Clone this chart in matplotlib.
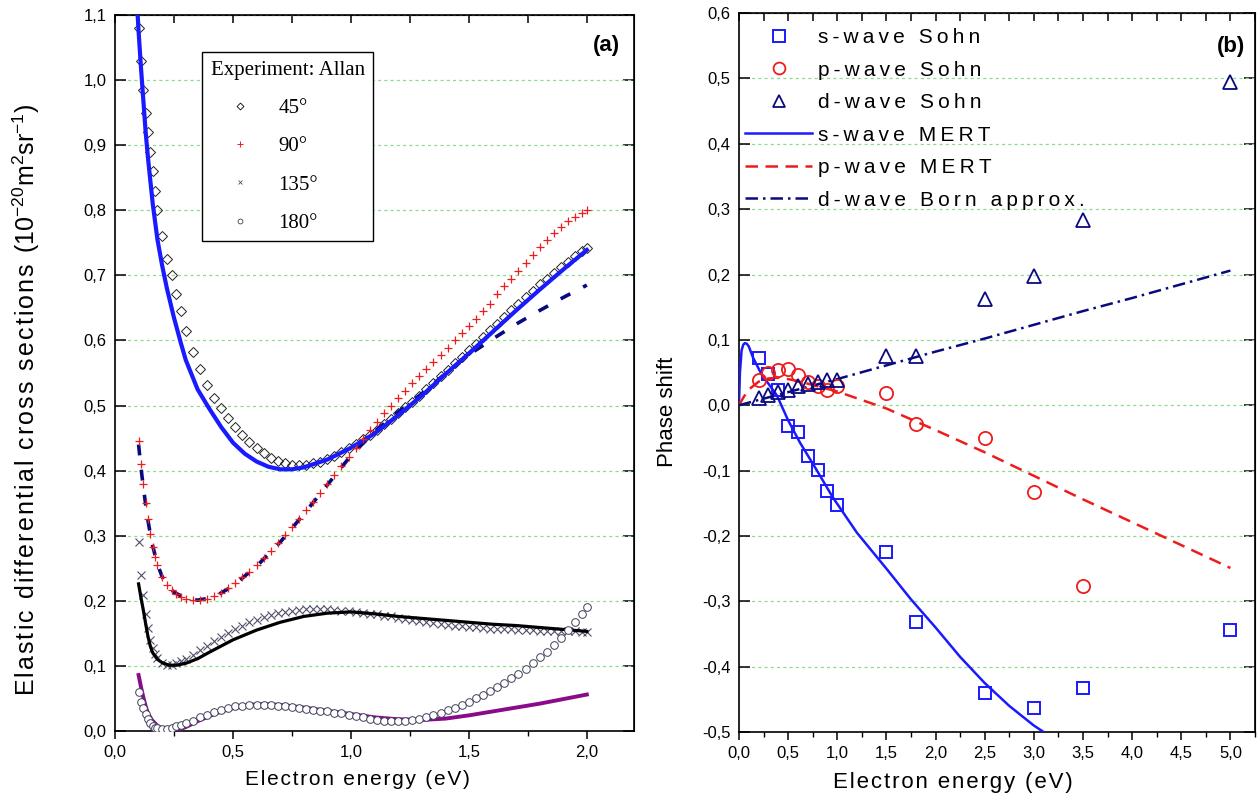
"""Elastic DCS (Allan experiment vs theory) and phase shifts (Sohn vs MERT)."""

import matplotlib

matplotlib.use("Agg")
import matplotlib.pyplot as plt
from matplotlib.lines import Line2D
from matplotlib.ticker import MultipleLocator, FuncFormatter

plt.rcParams["font.family"] = ["Liberation Sans", "DejaVu Sans"]
plt.rcParams["mathtext.fontset"] = "custom"
plt.rcParams["mathtext.rm"] = "Liberation Sans"
plt.rcParams["mathtext.it"] = "Liberation Sans:italic"
plt.rcParams["mathtext.bf"] = "Liberation Sans:bold"

# ---------------- panel (a): experiment, Allan ----------------
energy_exp = [0.10, 0.11, 0.12, 0.13, 0.14, 0.15, 0.16, 0.17, 0.18, 0.20,
              0.22, 0.24, 0.26, 0.28, 0.30, 0.33, 0.36, 0.39, 0.42, 0.45,
              0.48, 0.51, 0.54, 0.57, 0.60, 0.63, 0.66, 0.69, 0.72, 0.75,
              0.78, 0.81, 0.84, 0.87, 0.90, 0.93, 0.96, 0.99, 1.02, 1.05,
              1.08, 1.11, 1.14, 1.17, 1.20, 1.23, 1.26, 1.29, 1.32, 1.35,
              1.38, 1.41, 1.44, 1.47, 1.50, 1.53, 1.56, 1.59, 1.62, 1.65,
              1.68, 1.71, 1.74, 1.77, 1.80, 1.83, 1.86, 1.89, 1.92, 1.95,
              1.98, 2.00]
dcs_45 = [1.08, 1.03, 0.985, 0.95, 0.92, 0.89, 0.86, 0.83, 0.80, 0.76,
          0.725, 0.70, 0.672, 0.645, 0.615, 0.582, 0.556, 0.532, 0.512, 0.496,
          0.481, 0.467, 0.455, 0.444, 0.435, 0.427, 0.420, 0.415, 0.411, 0.409,
          0.408, 0.409, 0.411, 0.414, 0.418, 0.423, 0.428, 0.434, 0.441, 0.448,
          0.455, 0.463, 0.471, 0.479, 0.488, 0.497, 0.506, 0.515, 0.525, 0.535,
          0.545, 0.555, 0.565, 0.575, 0.585, 0.595, 0.605, 0.616, 0.626, 0.636,
          0.646, 0.656, 0.666, 0.676, 0.686, 0.695, 0.704, 0.713, 0.721, 0.729,
          0.737, 0.742]
dcs_90 = [0.445, 0.41, 0.38, 0.35, 0.325, 0.302, 0.283, 0.268, 0.255, 0.237,
          0.225, 0.216, 0.210, 0.206, 0.203, 0.201, 0.201, 0.203, 0.207, 0.212,
          0.219, 0.227, 0.236, 0.245, 0.255, 0.266, 0.277, 0.289, 0.301, 0.313,
          0.326, 0.339, 0.352, 0.366, 0.380, 0.393, 0.407, 0.421, 0.435, 0.448,
          0.462, 0.475, 0.488, 0.500, 0.512, 0.523, 0.534, 0.545, 0.556, 0.567,
          0.578, 0.589, 0.600, 0.611, 0.622, 0.633, 0.645, 0.656, 0.672, 0.683,
          0.695, 0.707, 0.719, 0.731, 0.743, 0.754, 0.765, 0.775, 0.783, 0.790,
          0.796, 0.800]
dcs_135 = [0.29, 0.24, 0.209, 0.18, 0.158, 0.14, 0.127, 0.118, 0.112, 0.105,
           0.102, 0.102, 0.104, 0.107, 0.111, 0.117, 0.124, 0.131, 0.138, 0.145,
           0.151, 0.157, 0.162, 0.167, 0.171, 0.175, 0.178, 0.181, 0.183, 0.185,
           0.186, 0.187, 0.187, 0.187, 0.187, 0.186, 0.185, 0.184, 0.183, 0.182,
           0.180, 0.179, 0.177, 0.176, 0.174, 0.172, 0.171, 0.169, 0.168, 0.166,
           0.165, 0.163, 0.162, 0.161, 0.160, 0.159, 0.158, 0.157, 0.157, 0.156,
           0.156, 0.155, 0.155, 0.155, 0.154, 0.154, 0.154, 0.153, 0.153, 0.153,
           0.152, 0.152]
dcs_180 = [0.060, 0.045, 0.035, 0.026, 0.018, 0.012, 0.008, 0.005, 0.004, 0.003,
           0.003, 0.005, 0.007, 0.009, 0.012, 0.016, 0.021, 0.025, 0.029, 0.033,
           0.036, 0.038, 0.039, 0.040, 0.040, 0.040, 0.040, 0.039, 0.038, 0.037,
           0.036, 0.034, 0.033, 0.031, 0.030, 0.028, 0.027, 0.025, 0.023, 0.021,
           0.019, 0.017, 0.016, 0.015, 0.015, 0.016, 0.017, 0.019, 0.021, 0.024,
           0.028, 0.032, 0.036, 0.040, 0.045, 0.050, 0.056, 0.062, 0.068, 0.074,
           0.081, 0.088, 0.096, 0.104, 0.113, 0.122, 0.132, 0.143, 0.155, 0.167,
           0.180, 0.190]

# ---------------- panel (a): theory ----------------
e_th_45 = [0.09, 0.10, 0.11, 0.12, 0.13, 0.14, 0.15, 0.16, 0.18, 0.20, 0.22, 0.25,
           0.28, 0.30, 0.35, 0.40, 0.45, 0.50, 0.55, 0.60, 0.65, 0.70, 0.75, 0.80,
           0.90, 1.00, 1.10, 1.20, 1.30, 1.40, 1.50, 1.60, 1.70, 1.80, 1.90, 2.00]
th_45 = [1.14, 1.075, 1.02, 0.97, 0.92, 0.88, 0.845, 0.81, 0.755, 0.715, 0.68, 0.635,
         0.595, 0.57, 0.525, 0.495, 0.467, 0.443, 0.426, 0.414, 0.406, 0.402, 0.402, 0.405,
         0.417, 0.435, 0.457, 0.485, 0.515, 0.548, 0.58, 0.613, 0.646, 0.678, 0.709, 0.739]
e_th_90 = [0.10, 0.11, 0.12, 0.13, 0.14, 0.15, 0.16, 0.18, 0.20, 0.22, 0.25, 0.30,
           0.35, 0.40, 0.45, 0.50, 0.60, 0.70, 0.80, 0.90, 1.00, 1.10, 1.20, 1.30,
           1.40, 1.50, 1.60, 1.70, 1.80, 1.90, 2.00]
th_90 = [0.44, 0.405, 0.375, 0.348, 0.323, 0.302, 0.284, 0.256, 0.237, 0.225, 0.213, 0.204,
         0.201, 0.204, 0.212, 0.223, 0.253, 0.29, 0.333, 0.378, 0.423, 0.46, 0.49, 0.518,
         0.549, 0.578, 0.602, 0.625, 0.646, 0.666, 0.685]
e_th_135 = [0.10, 0.11, 0.12, 0.13, 0.14, 0.15, 0.16, 0.18, 0.20, 0.23, 0.26, 0.30,
            0.35, 0.40, 0.50, 0.60, 0.70, 0.80, 0.90, 1.00, 1.10, 1.20, 1.30, 1.40,
            1.50, 1.60, 1.70, 1.80, 1.90, 2.00]
th_135 = [0.226, 0.205, 0.186, 0.165, 0.145, 0.13, 0.12, 0.11, 0.105, 0.101, 0.101, 0.104,
          0.111, 0.121, 0.14, 0.155, 0.167, 0.176, 0.181, 0.183, 0.18, 0.176, 0.173, 0.17,
          0.167, 0.164, 0.162, 0.159, 0.156, 0.153]
e_th_180 = [0.10, 0.11, 0.12, 0.13, 0.14, 0.156, 0.18, 0.20, 0.23, 0.26, 0.30, 0.35,
            0.40, 0.45, 0.50, 0.55, 0.60, 0.65, 0.70, 0.80, 0.90, 1.00, 1.10, 1.20,
            1.30, 1.40, 1.50, 1.60, 1.70, 1.80, 1.90, 2.00]
th_180 = [0.086, 0.068, 0.052, 0.038, 0.027, 0.017, 0.008, 0.003, 0.0, 0.001, 0.006, 0.015,
          0.023, 0.03, 0.035, 0.039, 0.041, 0.041, 0.04, 0.036, 0.031, 0.026, 0.021, 0.018,
          0.017, 0.019, 0.024, 0.03, 0.036, 0.042, 0.049, 0.056]

# ---------------- panel (b): phase shifts ----------------
e_sohn = [0.2, 0.3, 0.4, 0.5, 0.6, 0.7, 0.8, 0.9, 1.0, 1.5, 1.8, 2.5, 3.0, 3.5, 5.0]
s_sohn = [0.073, 0.048, 0.024, -0.032, -0.041, -0.078, -0.099, -0.131, -0.153,
          -0.225, -0.332, -0.440, -0.463, -0.433, -0.344]
e_p_sohn = [0.2, 0.3, 0.4, 0.5, 0.6, 0.7, 0.8, 0.9, 1.0, 1.5, 1.8, 2.5, 3.0, 3.5]
p_sohn = [0.038, 0.049, 0.054, 0.055, 0.047, 0.035, 0.029, 0.023, 0.029,
          0.018, -0.029, -0.050, -0.133, -0.277]
d_sohn = [0.011, 0.015, 0.020, 0.023, 0.029, 0.033, 0.035, 0.038, 0.039,
          0.076, 0.075, 0.162, 0.197, 0.284, 0.494]

e_s_mert = [0.0, 0.01, 0.027, 0.045, 0.061, 0.08, 0.1, 0.143, 0.2, 0.245, 0.3, 0.386,
            0.5, 0.62, 0.79, 0.955, 1.2, 1.5, 1.75, 2.0, 2.25, 2.5, 2.75, 3.0, 3.2]
s_mert = [0.0, 0.05, 0.084, 0.093, 0.095, 0.094, 0.09, 0.073, 0.056, 0.043, 0.033, 0.015,
          -0.023, -0.057, -0.099, -0.141, -0.195, -0.25, -0.297, -0.34, -0.385, -0.425,
          -0.46, -0.49, -0.51]
e_p_mert = [0.0, 0.05, 0.1, 0.2, 0.3, 0.4, 0.5, 0.6, 0.8, 1.0, 1.25, 1.5, 2.0, 2.5,
            3.0, 3.5, 4.0, 4.5, 5.0]
p_mert = [0.0, 0.013, 0.024, 0.036, 0.041, 0.042, 0.04, 0.037, 0.029, 0.021, 0.008,
          -0.005, -0.038, -0.072, -0.108, -0.144, -0.179, -0.214, -0.249]
e_d_born = [0.0, 0.5, 1.0, 1.5, 2.0, 2.5, 3.0, 3.5, 4.0, 4.5, 5.0]
d_born = [0.0, 0.02, 0.04, 0.061, 0.082, 0.102, 0.123, 0.144, 0.164, 0.185, 0.206]

# colours
C_BLUE = "#1a1aff"
C_NAVY = "#0a0a80"
C_RED = "#ee1c1c"
C_PURPLE = "#8a0a8a"
C_GRID = "#8fdc8f"

THIN = "\u2009"
HAIR = "\u200a"


def spaced(s, gap=THIN):
    return gap.join(s)


def comma(v, pos):
    if abs(v) < 1e-9:
        v = 0.0
    return f"{v:.1f}".replace(".", ",")


def style_axes(ax, xmax, ymin, ymax):
    ax.set_xlim(0, xmax)
    ax.set_ylim(ymin, ymax)
    ax.xaxis.set_major_locator(MultipleLocator(0.5))
    ax.xaxis.set_minor_locator(MultipleLocator(0.25))
    ax.yaxis.set_major_locator(MultipleLocator(0.1))
    ax.xaxis.set_major_formatter(FuncFormatter(comma))
    ax.yaxis.set_major_formatter(FuncFormatter(comma))
    ax.tick_params(axis="x", which="major", direction="out", length=6, width=1.1,
                   labelsize=12, pad=4)
    ax.tick_params(axis="x", which="minor", direction="out", length=3.5, width=1.0)
    ax.tick_params(axis="y", which="major", direction="in", length=8, width=1.1,
                   labelsize=12, pad=6)
    for sp in ax.spines.values():
        sp.set_linewidth(1.2)
    top = ax.secondary_xaxis("top")
    top.xaxis.set_major_locator(MultipleLocator(0.25))
    top.tick_params(direction="in", length=6, width=1.1, labeltop=False)
    right = ax.secondary_yaxis("right")
    right.yaxis.set_major_locator(MultipleLocator(0.1))
    right.tick_params(direction="in", length=8, width=1.1, labelright=False)
    ax.yaxis.grid(True, color=C_GRID, linestyle=(0, (2.5, 2.5)), linewidth=0.9)
    ax.set_axisbelow(True)


fig = plt.figure(figsize=(12.58, 8.01), dpi=100)

# ================= panel (a) =================
ax = fig.add_axes([0.0914, 0.0874, 0.4126, 0.8939])
style_axes(ax, 2.2, 0.0, 1.1)

ax.plot(energy_exp, dcs_45, ls="none", marker="D", ms=5.5, mfc="none", mec="#222222",
        mew=0.7, zorder=3)
ax.plot(e_th_45, th_45, color=C_BLUE, lw=3.0, zorder=4)

ax.plot(e_th_90, th_90, color=C_NAVY, lw=2.6, dashes=(3, 4), zorder=3)
ax.plot(energy_exp, dcs_90, ls="none", marker="+", ms=6, mec=C_RED, mew=0.9, zorder=4)

ax.plot(energy_exp, dcs_135, ls="none", marker="x", ms=5.5, mec="#50506a", mew=0.8,
        zorder=3)
ax.plot(e_th_135, th_135, color="black", lw=2.3, zorder=4)

ax.plot(e_th_180, th_180, color=C_PURPLE, lw=2.8, zorder=3)
ax.plot(energy_exp, dcs_180, ls="none", marker="o", ms=5.5, mfc="white", mec="#40405c",
        mew=0.7, zorder=4)

ax.set_xlabel(spaced("Electron energy (eV)", HAIR), fontsize=15, labelpad=8)
ax.xaxis.set_label_coords(0.468, -0.055)
ax.set_ylabel(spaced("Elastic differential cross sections (", HAIR)
              + "10$^{-20}$m$^{2}$sr$^{-1}$)", fontsize=18)
ax.yaxis.set_label_coords(-0.14, 0.462)

ax.text(0.973, 0.957, "(a)", transform=ax.transAxes, ha="right", va="center",
        fontsize=16, fontweight="bold")

serif = {"family": "Liberation Serif", "size": 15}
h45 = Line2D([], [], ls="none", marker="D", ms=3.5, mfc="none", mec="black", mew=0.6)
h90 = Line2D([], [], ls="none", marker="+", ms=4, mec=C_RED, mew=0.7)
h135 = Line2D([], [], ls="none", marker="x", ms=3.5, mec="#50506a", mew=0.6)
h180 = Line2D([], [], ls="none", marker="o", ms=3.5, mfc="none", mec="#40405c", mew=0.6)
leg = ax.legend([h45, h90, h135, h180], ["45°", "90°", "135°", "180°"],
                title="Experiment: Allan", title_fontproperties=serif, prop=serif,
                loc="upper left", bbox_to_anchor=(0.168, 0.948), borderaxespad=0,
                frameon=True, fancybox=False, edgecolor="black", framealpha=1,
                handlelength=2.8, handletextpad=0.45, labelspacing=0.9,
                borderpad=0.4, alignment="left")
leg.get_frame().set_linewidth(1.0)
leg.set_zorder(10)

# ================= panel (b) =================
bx = fig.add_axes([0.5874, 0.0861, 0.4102, 0.8976])
style_axes(bx, 5.25, -0.5, 0.6)

bx.plot(e_s_mert, s_mert, color=C_BLUE, lw=1.8, zorder=3)
bx.plot(e_p_mert, p_mert, color=C_RED, lw=1.8, dashes=(5, 3), zorder=3)
bx.plot(e_d_born, d_born, color=C_NAVY, lw=1.8, dashes=(5, 2, 1, 2), zorder=3)
bx.plot(e_sohn, s_sohn, ls="none", marker="s", ms=8.5, mfc="none", mec=C_BLUE,
        mew=1.4, zorder=4)
bx.plot(e_p_sohn, p_sohn, ls="none", marker="o", ms=9.5, mfc="none", mec=C_RED,
        mew=1.3, zorder=4)
bx.plot(e_sohn, d_sohn, ls="none", marker="^", ms=9.5, mfc="none", mec=C_NAVY,
        mew=1.3, zorder=4)

bx.set_xlabel(spaced("Electron energy (eV)", HAIR), fontsize=16, labelpad=8)
bx.xaxis.set_label_coords(0.415, -0.055)
bx.set_ylabel("Phase shift", fontsize=16)
bx.yaxis.set_label_coords(-0.118, 0.445)

bx.text(0.981, 0.953, "(b)", transform=bx.transAxes, ha="right", va="center",
        fontsize=16, fontweight="bold")

handles_b = [
    Line2D([], [], ls="none", marker="s", ms=8, mfc="none", mec=C_BLUE, mew=1.4),
    Line2D([], [], ls="none", marker="o", ms=8.5, mfc="none", mec=C_RED, mew=1.3),
    Line2D([], [], ls="none", marker="^", ms=8.5, mfc="none", mec=C_NAVY, mew=1.3),
    Line2D([], [], color=C_BLUE, lw=1.8),
    Line2D([], [], color=C_RED, lw=1.8, dashes=(5, 3)),
    Line2D([], [], color=C_NAVY, lw=1.8, dashes=(5, 2, 1, 2)),
]
labels_b = ["s-wave Sohn", "p-wave Sohn", "d-wave Sohn", "s-wave MERT", "p-wave MERT",
            "d-wave Born approx."]
bx.legend(handles_b, [spaced(t) for t in labels_b], loc="upper left",
          bbox_to_anchor=(0.004, 0.985), borderaxespad=0, frameon=False, fontsize=15,
          handlelength=3.2, handletextpad=0.3, labelspacing=0.65, borderpad=0.2)

fig.savefig("out.png", dpi=100)
